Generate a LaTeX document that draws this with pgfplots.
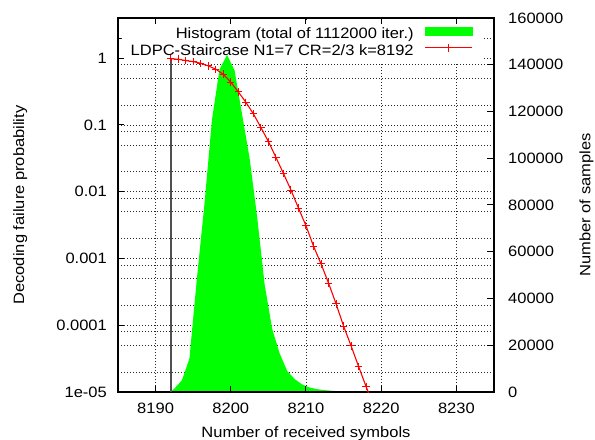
\documentclass[border=0pt]{standalone}
\usepackage{fontspec}
\setmainfont[FakeStretch=1.1]{Liberation Sans}
\usepackage{pgfplots}
\usepackage{pgfplotstable}
\pgfplotsset{compat=1.18}
\definecolor{hgreen}{RGB}{0,255,0}
\definecolor{cred}{RGB}{255,0,0}
\definecolor{vgray}{RGB}{80,80,80}

\pgfplotstableread{
x y
8192 0.98
8193 0.966
8194 0.92
8195 0.89
8196 0.84
8197 0.767
8198 0.684
8199 0.576
8200 0.437
8201 0.313
8202 0.219
8203 0.147
8204 0.0918
8205 0.0565
8206 0.0327
8207 0.0188
8208 0.0106
8209 0.00568
8210 0.00309
8211 0.00153
8212 0.00083
8213 0.000428
8214 0.000209
8215 0.000097
8216 0.000049
8217 0.000024
8218 0.000012
8219 0.000006
}\curvedata

\pgfplotstableread{
x n
8192 0
8192.5 1500
8193.5 5000
8194.5 14300
8195.5 48800
8196.5 80500
8197.5 116600
8198.5 138000
8199.5 144200
8200.5 137600
8201.5 118800
8202.5 100000
8203.5 75000
8204.5 46000
8205.5 27000
8206.5 16500
8207.5 9000
8208.5 5500
8209.5 3200
8210.5 1900
8211.5 1200
8212.5 800
8213.5 500
8214.5 300
8215.5 150
8216.5 50
8217 0
}\histdata

\begin{document}
\fontsize{15bp}{18bp}\selectfont
\begin{tikzpicture}
\pgfplotsset{
  every axis/.append style={scale only axis, width=376bp, height=374bp,
    at={(118bp,48bp)}, anchor=south west, xmin=8185, xmax=8235},
}
% ---- Axis A: grid, tick labels, axis labels, legend
\begin{axis}[
  ymode=log, ymin=1e-5, ymax=4,
  axis line style={draw=none},
  major tick length=0pt, minor tick length=0pt, yminorticks=false,
  xtick={8190,8200,8210,8220,8230},
  xticklabels={8190,8200,8210,8220,8230},
  ytick={1e-5,1e-4,1e-3,1e-2,1e-1,1},
  yticklabels={1e-05,0.0001,0.001,0.01,0.1,1},
  extra y ticks={2,0.8,0.5,0.2,0.08,0.05,0.02,0.008,0.005,0.002,0.0008,0.0005,0.0002,0.00008,0.00005,0.00002},
  extra y tick labels={},
  extra tick style={grid=major, major tick length=0pt},
  grid=major,
  major grid style={black!85, line width=0.7bp, dash pattern=on 0.8bp off 2.2bp},
  xtick pos=bottom, ytick pos=left,
  yticklabel style={anchor=east, inner sep=0pt, xshift=-11bp},
  xticklabel style={anchor=north, inner sep=0pt, yshift=-11bp},
  xlabel={Number of received symbols},
  ylabel={Decoding failure probability},
  xlabel style={at={(axis description cs:0.5,-0.122)}, anchor=base},
  ylabel style={at={(axis description cs:-0.25,0.5)}, anchor=base},
  legend style={at={(axis description cs:0.968,0.9893)}, anchor=north east,
    fill=white, draw=none, inner xsep=9bp, inner ysep=5bp, row sep=2bp,
    column sep=11bp,
    nodes={inner sep=0pt, text height=10.5bp, text depth=3bp}},
  legend cell align=right,
  legend plot pos=right,
]
\addlegendimage{legend image code/.code={\fill[hgreen] (0bp,-0.5bp) rectangle (47bp,7.5bp);}}
\addlegendentry{Histogram (total of 1112000 iter.)}
\addlegendimage{legend image code/.code={\draw[cred, line width=1.1bp] (0bp,3.5bp) -- (47bp,3.5bp);
  \draw[cred, line width=1bp] (19.8bp,3.5bp) -- (27.2bp,3.5bp) (23.5bp,-0.2bp) -- (23.5bp,7.2bp);}}
\addlegendentry{LDPC-Staircase N1=7 CR=2/3 k=8192}
\end{axis}
% ---- Axis B: histogram on right axis
\begin{axis}[
  ymin=0, ymax=160000,
  scaled y ticks=false,
  axis x line=none,
  axis y line*=right,
  axis line style={line width=1.2bp},
  ytick={0,20000,40000,60000,80000,100000,120000,140000,160000},
  yticklabels={0,20000,40000,60000,80000,100000,120000,140000,160000},
  yticklabel style={anchor=west, inner sep=0pt, xshift=14bp},
  tick align=inside, major tick length=6.5bp,
  tick style={line width=1bp, black},
  ylabel={Number of samples},
  ylabel style={at={(axis description cs:1.2566,0.5)}, anchor=base},
]
\addplot[fill=hgreen, draw=none] table[x=x,y=n]{\histdata} \closedcycle;
\end{axis}
% ---- Axis C: curve, frame, tick marks
\begin{axis}[
  ymode=log, ymin=1e-5, ymax=4,
  xtick={8190,8200,8210,8220,8230}, xticklabels={},
  ytick={1e-5,1e-4,1e-3,1e-2,1e-1,1}, yticklabels={},
  yminorticks=false,
  extra y ticks={2}, extra y tick labels={},
  extra tick style={major tick length=3.5bp},
  tick align=inside, major tick length=6.5bp,
  tick style={line width=1bp, black},
  xtick pos=both, ytick pos=left,
  axis line style={line width=1.2bp, black},
]
\addplot[vgray, line width=1.8bp] coordinates {(8192,1e-5) (8192,1)};
\addplot[cred, line width=1.1bp, no markers] table[x=x,y=y]{\curvedata};
\addplot[cred, only marks, mark=+, mark size=3.7bp, mark options={line width=1bp},
  restrict x to domain=8192:8218] table[x=x,y=y]{\curvedata};
\end{axis}
\pgfresetboundingbox
\path[use as bounding box] (0,0) rectangle (595bp,440bp);
\end{tikzpicture}
\end{document}
